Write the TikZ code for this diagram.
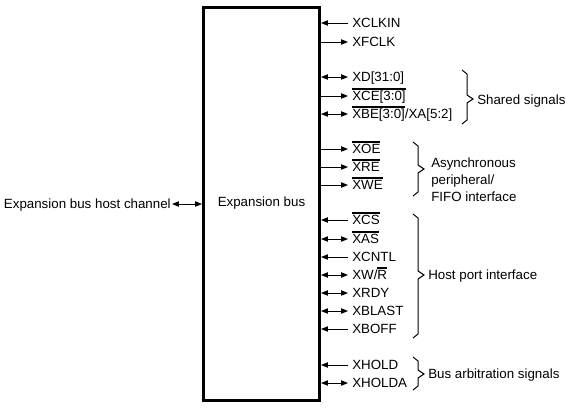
\documentclass[tikz,border=0pt]{standalone}
\usepackage{fontspec}
\setmainfont{Liberation Sans}
\usetikzlibrary{arrows.meta}
\newcommand\ovl[1]{\leavevmode\vbox{\hrule height 1.5pt\kern 1pt\hbox{#1}}}
\newcommand\mybrace[4]{\draw[brc] (#1,#2) -- ({#1+5},{#2+4}) -- ({#1+5},{#4-4}) -- ({#1+11},{#4}) -- ({#1+5},{#4+4}) -- ({#1+5},{#3-4}) -- (#1,#3);}
\tikzset{
  wire/.style={line width=0.75pt},
  tip/.tip={Triangle[length=5.2pt,width=4pt]},
  sig/.style={anchor=west, inner xsep=3pt, inner ysep=0pt, text height=7.2pt, text depth=0pt, font=\fontsize{10pt}{12pt}\selectfont},
  lbl/.style={anchor=west, inner sep=0pt, text height=7.2pt, text depth=0pt, font=\fontsize{10pt}{12pt}\selectfont},
  brc/.style={line width=0.75pt, line join=miter}
}
\begin{document}
\begin{tikzpicture}[x=0.75pt,y=-0.75pt]
\useasboundingbox (0,0) rectangle (571,408);
% main box
\node[draw, line width=2.25pt, minimum width=87pt, minimum height=294.75pt, inner sep=0pt,
      font=\fontsize{10pt}{12pt}\selectfont] (bus) at (261.5,203.5) {Expansion bus};
% host channel
\node[anchor=east, inner xsep=0.75pt, inner ysep=0pt, text height=7.2pt, text depth=0pt,
      font=\fontsize{10pt}{12pt}\selectfont] (host) at (172,204) {Expansion bus host channel};
\draw[wire, {tip}-{tip}] (host.east) -- (bus.west |- host.east);
% signals
\node[sig] (s1) at (348,23) {XCLKIN};
\node[sig] (s2) at (348,42) {XFCLK};
\node[sig] (s3) at (348,77) {XD[31:0]};
\node[sig] (s4) at (348,96) {\ovl{XCE[3:0]}};
\node[sig] (s5) at (348,114) {\ovl{XBE[3:0]}/XA[5:2]};
\node[sig] (s6) at (348,149) {\ovl{XOE}};
\node[sig] (s7) at (348,167) {\ovl{XRE}};
\node[sig] (s8) at (348,185) {\ovl{XWE}};
\node[sig] (s9) at (348,220) {\ovl{XCS}};
\node[sig] (s10) at (348,239) {\ovl{XAS}};
\node[sig] (s11) at (348,257) {XCNTL};
\node[sig] (s12) at (348,275) {XW/\ovl{R}};
\node[sig] (s13) at (348,293) {XRDY};
\node[sig] (s14) at (348,311) {XBLAST};
\node[sig] (s15) at (348,329) {XBOFF};
\node[sig] (s16) at (348,365) {XHOLD};
\node[sig] (s17) at (348,383) {XHOLDA};
% connectors
\draw[wire, {tip}-] (bus.east |- s1.west) -- (s1.west);
\draw[wire, -{tip}] (bus.east |- s2.west) -- (s2.west);
\draw[wire, {tip}-{tip}] (bus.east |- s3.west) -- (s3.west);
\draw[wire, -{tip}] (bus.east |- s4.west) -- (s4.west);
\draw[wire, {tip}-{tip}] (bus.east |- s5.west) -- (s5.west);
\draw[wire, -{tip}] (bus.east |- s6.west) -- (s6.west);
\draw[wire, -{tip}] (bus.east |- s7.west) -- (s7.west);
\draw[wire, -{tip}] (bus.east |- s8.west) -- (s8.west);
\draw[wire, {tip}-] (bus.east |- s9.west) -- (s9.west);
\draw[wire, {tip}-{tip}] (bus.east |- s10.west) -- (s10.west);
\draw[wire, {tip}-] (bus.east |- s11.west) -- (s11.west);
\draw[wire, {tip}-{tip}] (bus.east |- s12.west) -- (s12.west);
\draw[wire, {tip}-{tip}] (bus.east |- s13.west) -- (s13.west);
\draw[wire, {tip}-{tip}] (bus.east |- s14.west) -- (s14.west);
\draw[wire, {tip}-] (bus.east |- s15.west) -- (s15.west);
\draw[wire, {tip}-] (bus.east |- s16.west) -- (s16.west);
\draw[wire, {tip}-{tip}] (bus.east |- s17.west) -- (s17.west);
% braces and group labels
\mybrace{462}{70}{124}{99}
\node[lbl] (g1) at (477,100) {Shared signals};
\mybrace{413}{142}{196}{169}
\node[anchor=north west, inner sep=0pt, align=left, font=\fontsize{10pt}{12.4pt}\selectfont] (g2) at (431,158) {Asynchronous\\peripheral/\\FIFO interface};
\mybrace{413}{214}{338}{275}
\node[lbl] (g3) at (428,275) {Host port interface};
\mybrace{413}{357}{390}{374}
\node[lbl] (g4) at (428,374) {Bus arbitration signals};
\end{tikzpicture}
\end{document}
